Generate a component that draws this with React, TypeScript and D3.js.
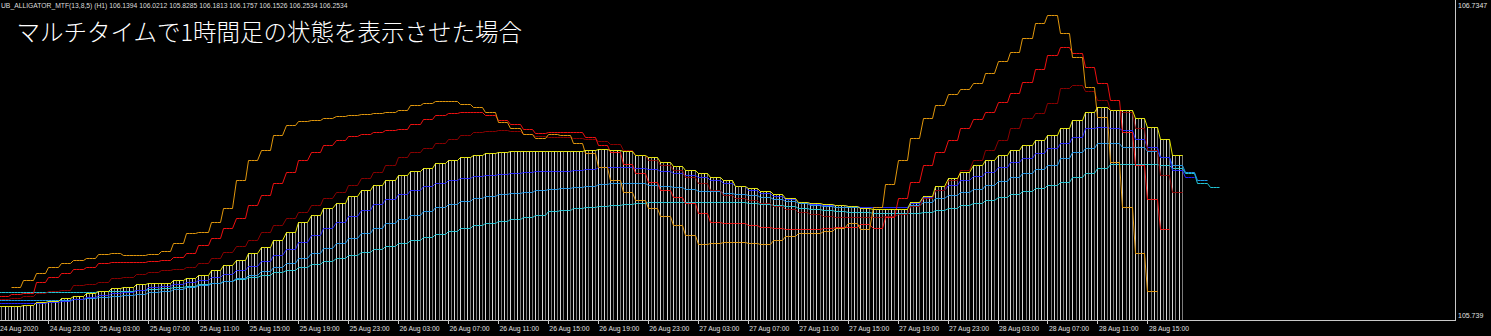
import React from 'react';
import * as d3 from 'd3';

// ---- data (hourly values, H1 alligator MTF lines drawn on an M15 grid) ----
const indicatorTitle =
  'UB_ALLIGATOR_MTF(13,8,5) (H1) 106.1394 106.0212 105.8285 106.1813 106.1757 106.1526 106.2534 106.2534';
const captionText = 'マルチタイムで1時間足の状態を表示させた場合';
const priceTop = 106.7347;
const priceBottom = 105.739;
const firstLabel = '24 Aug 2020';
const tickLabels = [
  '24 Aug 23:00', '25 Aug 03:00', '25 Aug 07:00', '25 Aug 11:00', '25 Aug 15:00', '25 Aug 19:00',
  '25 Aug 23:00', '26 Aug 03:00', '26 Aug 07:00', '26 Aug 11:00', '26 Aug 15:00', '26 Aug 19:00',
  '26 Aug 23:00', '27 Aug 03:00', '27 Aug 07:00', '27 Aug 11:00', '27 Aug 15:00', '27 Aug 19:00',
  '27 Aug 23:00', '28 Aug 03:00', '28 Aug 07:00', '28 Aug 11:00', '28 Aug 15:00',
];

// orange starts at hour 1
const orangeLine = [
  105.829, 105.852, 105.874, 105.893, 105.906, 105.916, 105.922, 105.935, 105.938, 105.932,
  105.932, 105.935, 105.945, 105.970, 106.003, 106.006, 106.038, 106.083, 106.173, 106.237,
  106.269, 106.317, 106.349, 106.362, 106.366, 106.372, 106.378, 106.382, 106.385, 106.388,
  106.391, 106.398, 106.414, 106.420, 106.427, 106.427, 106.417, 106.407, 106.391, 106.359,
  106.340, 106.321, 106.308, 106.321, 106.317, 106.292, 106.260, 106.215, 106.173, 106.134,
  106.109, 106.083, 106.057, 106.028, 105.996, 105.967, 105.970, 105.974, 105.974, 105.970,
  105.967, 105.980, 105.993, 106.003, 106.003, 106.009, 106.019, 106.035, 106.015, 106.086,
  106.160, 106.237, 106.308, 106.372, 106.414, 106.449, 106.465, 106.484, 106.517, 106.555,
  106.584, 106.629, 106.677, 106.703, 106.645, 106.568, 106.472, 106.375, 106.231, 106.086,
  105.938, 105.816,
];
const redLine = [
  105.800, 105.807, 105.810, 105.845, 105.861, 105.874, 105.887, 105.893, 105.906, 105.909,
  105.909, 105.909, 105.913, 105.916, 105.926, 105.938, 105.964, 105.987, 106.019, 106.051,
  106.093, 106.125, 106.163, 106.199, 106.237, 106.263, 106.285, 106.301, 106.314, 106.321,
  106.327, 106.333, 106.337, 106.353, 106.369, 106.382, 106.388, 106.391, 106.391, 106.382,
  106.366, 106.353, 106.337, 106.324, 106.327, 106.327, 106.327, 106.311, 106.285, 106.263,
  106.224, 106.195, 106.166, 106.141, 106.118, 106.099, 106.067, 106.038, 106.035, 106.035,
  106.028, 106.022, 106.019, 106.015, 106.015, 106.015, 106.019, 106.022, 106.022, 106.032,
  106.019, 106.054, 106.115, 106.166, 106.221, 106.263, 106.301, 106.340, 106.369, 106.391,
  106.423, 106.452, 106.488, 106.529, 106.574, 106.600, 106.581, 106.536, 106.484, 106.430,
  106.327, 106.221, 106.112, 106.015,
];
const darkRedLine = [
  105.791, 105.794, 105.800, 105.810, 105.816, 105.820, 105.836, 105.839, 105.845, 105.858,
  105.861, 105.871, 105.877, 105.884, 105.887, 105.893, 105.906, 105.922, 105.942, 105.961,
  105.980, 106.006, 106.028, 106.051, 106.070, 106.093, 106.115, 106.134, 106.157, 106.179,
  106.199, 106.221, 106.247, 106.263, 106.276, 106.292, 106.305, 106.317, 106.327, 106.330,
  106.333, 106.330, 106.321, 106.314, 106.311, 106.311, 106.308, 106.305, 106.298, 106.288,
  106.269, 106.253, 106.237, 106.221, 106.205, 106.182, 106.163, 106.141, 106.125, 106.115,
  106.109, 106.099, 106.089, 106.080, 106.070, 106.064, 106.057, 106.054, 106.054, 106.054,
  106.054, 106.057, 106.064, 106.089, 106.115, 106.141, 106.173, 106.205, 106.237, 106.269,
  106.301, 106.340, 106.372, 106.388, 106.420, 106.468, 106.478, 106.459, 106.430, 106.398,
  106.391, 106.340, 106.269, 106.189, 106.134,
];
const histogramTop = [
  105.768, 105.768, 105.771, 105.781, 105.784, 105.794, 105.800, 105.810, 105.816, 105.826,
  105.829, 105.839, 105.842, 105.842, 105.852, 105.858, 105.868, 105.884, 105.900, 105.916,
  105.938, 105.958, 105.980, 106.006, 106.038, 106.060, 106.083, 106.099, 106.121, 106.141,
  106.157, 106.173, 106.189, 106.202, 106.211, 106.227, 106.237, 106.247, 106.253, 106.260,
  106.263, 106.266, 106.266, 106.266, 106.266, 106.266, 106.266, 106.269, 106.272, 106.269,
  106.266, 106.253, 106.247, 106.231, 106.218, 106.205, 106.195, 106.182, 106.173, 106.154,
  106.147, 106.138, 106.128, 106.115, 106.102, 106.099, 106.096, 106.093, 106.089, 106.083,
  106.080, 106.080, 106.080, 106.102, 106.121, 106.154, 106.179, 106.199, 106.221, 106.237,
  106.253, 106.269, 106.285, 106.301, 106.317, 106.340, 106.366, 106.391, 106.407, 106.398,
  106.398, 106.372, 106.343, 106.305, 106.253,
];
const blueLine = [
  105.778, 105.778, 105.778, 105.778, 105.781, 105.784, 105.791, 105.797, 105.803, 105.810,
  105.813, 105.820, 105.829, 105.832, 105.839, 105.845, 105.852, 105.861, 105.871, 105.884,
  105.897, 105.913, 105.932, 105.951, 105.974, 105.996, 106.019, 106.038, 106.057, 106.076,
  106.096, 106.112, 106.128, 106.141, 106.154, 106.163, 106.173, 106.179, 106.186, 106.189,
  106.192, 106.195, 106.199, 106.202, 106.202, 106.202, 106.205, 106.208, 106.215, 106.215,
  106.215, 106.211, 106.208, 106.202, 106.195, 106.189, 106.182, 106.173, 106.163, 106.154,
  106.141, 106.131, 106.121, 106.112, 106.102, 106.096, 106.093, 106.093, 106.089, 106.086,
  106.086, 106.086, 106.086, 106.099, 106.118, 106.141, 106.157, 106.173, 106.186, 106.199,
  106.215, 106.231, 106.243, 106.260, 106.276, 106.292, 106.311, 106.340, 106.343, 106.340,
  106.333, 106.305, 106.279, 106.247, 106.205, 106.182,
];
const skyBlueLine = [
  105.787, 105.787, 105.787, 105.787, 105.787, 105.787, 105.791, 105.794, 105.797, 105.800,
  105.803, 105.807, 105.813, 105.816, 105.823, 105.829, 105.836, 105.842, 105.848, 105.858,
  105.868, 105.881, 105.893, 105.906, 105.922, 105.938, 105.954, 105.970, 105.987, 106.003,
  106.019, 106.035, 106.048, 106.060, 106.073, 106.086, 106.096, 106.105, 106.115, 106.121,
  106.128, 106.131, 106.134, 106.141, 106.144, 106.147, 106.150, 106.154, 106.160, 106.163,
  106.163, 106.163, 106.157, 106.154, 106.150, 106.144, 106.138, 106.138, 106.131, 106.128,
  106.125, 106.118, 106.112, 106.105, 106.099, 106.093, 106.089, 106.086, 106.086, 106.086,
  106.086, 106.086, 106.086, 106.093, 106.102, 106.115, 106.125, 106.134, 106.144, 106.157,
  106.170, 106.182, 106.195, 106.208, 106.221, 106.243, 106.263, 106.276, 106.292, 106.292,
  106.279, 106.279, 106.266, 106.247, 106.221, 106.199, 106.173,
];
const tealLine = [
  105.813, 105.813, 105.813, 105.813, 105.813, 105.813, 105.813, 105.813, 105.816, 105.816,
  105.816, 105.820, 105.823, 105.826, 105.829, 105.832, 105.839, 105.842, 105.848, 105.855,
  105.861, 105.868, 105.877, 105.884, 105.893, 105.903, 105.913, 105.922, 105.932, 105.942,
  105.951, 105.961, 105.970, 105.980, 105.990, 105.999, 106.009, 106.019, 106.028, 106.035,
  106.041, 106.048, 106.054, 106.060, 106.073, 106.076, 106.083, 106.086, 106.089, 106.093,
  106.096, 106.099, 106.102, 106.102, 106.102, 106.102, 106.102, 106.102, 106.102, 106.102,
  106.099, 106.096, 106.093, 106.089, 106.083, 106.080, 106.076, 106.073, 106.070, 106.070,
  106.067, 106.067, 106.067, 106.067, 106.070, 106.076, 106.083, 106.093, 106.099, 106.109,
  106.118, 106.128, 106.138, 106.147, 106.157, 106.166, 106.182, 106.195, 106.211, 106.224,
  106.224, 106.224, 106.224, 106.221, 106.211, 106.195, 106.163, 106.150,
];

const seriesList = [
  { name: 'teal', start: 0, values: tealLine, color: '#20c4d4' },
  { name: 'sky', start: 0, values: skyBlueLine, color: '#1e96e8' },
  { name: 'blue', start: 0, values: blueLine, color: '#2424ff' },
  { name: 'darkred', start: 0, values: darkRedLine, color: '#8a0000' },
  { name: 'red', start: 0, values: redLine, color: '#ee1010' },
  { name: 'orange', start: 1, values: orangeLine, color: '#e0960c' },
  { name: 'yellow', start: 0, values: histogramTop, color: '#e6e600' },
];

const SUB = [0, 1, 2, 3]; // four M15 bars per hour

export default function App() {
  const W = 1491;
  const H = 336;
  const plotRight = 1455.5;
  const plotBottom = 320.5;
  const x = d3.scaleLinear().domain([0, 100]).range([-1.7, 1247.3]);
  const y = d3.scaleLinear().domain([priceBottom, priceTop]).range([315, 5]);
  const snap = (v: number) => Math.round(v) + 0.5;
  const line = d3.line<[number, number]>();
  const pts = (start: number, vals: number[]): [number, number][] =>
    vals.flatMap((v, i) =>
      SUB.map((q) => [snap(x(start + i + q / 4)), snap(y(v))] as [number, number])
    );

  const bars = histogramTop.flatMap((v, i) =>
    SUB.map((q) => ({ key: `${i}-${q}`, idx: i * 4 + q, bx: Math.round(x(i + q / 4)), top: y(v) }))
  );
  const font = "'Liberation Sans', Arial, sans-serif";

  return (
    <svg width={W} height={H} style={{ position: 'absolute', left: 0, top: 0, display: 'block' }}>
      <rect x={0} y={0} width={W} height={H} fill="#000" />
      <g shapeRendering="crispEdges">
        {bars.map((b) => (
          <rect
            key={b.key}
            x={b.bx}
            y={b.top}
            width={1}
            height={plotBottom - b.top}
            fill={b.idx % 2 === 0 ? '#d6d6d6' : '#7c7c7c'}
          />
        ))}
      </g>
      <g fill="none" strokeWidth={1}>
        {seriesList.map((s) => (
          <path key={s.name} d={line(pts(s.start, s.values)) || ''} stroke={s.color} />
        ))}
      </g>
      {/* axes */}
      <g stroke="#c8c8c8" shapeRendering="crispEdges">
        <line x1={0} x2={plotRight} y1={plotBottom} y2={plotBottom} />
        <line x1={plotRight} x2={plotRight} y1={0} y2={plotBottom} />
        {tickLabels.map((t, i) => (
          <line key={t} x1={snap(x(4 + i * 4))} x2={snap(x(4 + i * 4))} y1={plotBottom} y2={plotBottom + 3.5} />
        ))}
      </g>
      <g fill="#e0e0e0" fontFamily={font} fontSize={6.8}>
        <text x={0} y={330.5}>{firstLabel}</text>
        {tickLabels.map((t, i) => (
          <text key={t} x={x(4 + i * 4) + 1.5} y={330.5}>{t}</text>
        ))}
        <text x={1458} y={7.5} fontSize={7}>{priceTop.toFixed(4)}</text>
        <text x={1458} y={317.5} fontSize={7}>{String(priceBottom)}</text>
        <text x={1} y={8} fill="#dcdcdc" fontSize={6.75}>{indicatorTitle}</text>
      </g>
      <text x={16.5} y={41} fill="#ffffff" fontSize={23.5} fontWeight={300} fontFamily="'Noto Sans CJK JP', sans-serif">
        {captionText}
      </text>
    </svg>
  );
}
